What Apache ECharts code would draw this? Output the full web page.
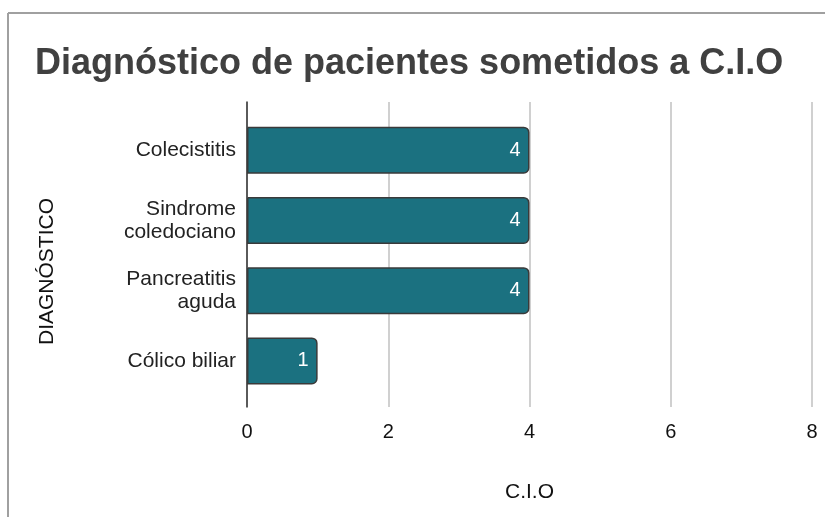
<!DOCTYPE html>
<html><head><meta charset="utf-8">
<script src="https://cdn.jsdelivr.net/npm/echarts@6/dist/echarts.min.js"></script>
<style>html,body{margin:0;padding:0;background:#fff}#c{width:825px;height:517px}</style>
</head><body><div id="c"></div>
<script>
const categories = ["Colecistitis", "Sindrome\ncoledociano", "Pancreatitis\naguda", "Cólico biliar"];
const values = [4, 4, 4, 1];
const xTicks = [0, 2, 4, 6, 8];
const titleText = "Diagnóstico de pacientes sometidos a C.I.O";
const xName = "C.I.O";
const yName = "DIAGNÓSTICO";

const chart = echarts.init(document.getElementById('c'), null, {renderer: 'canvas'});
const FONT = 'Liberation Sans';
chart.setOption({
  animation: false,
  backgroundColor: '#fff',
  title: {
    text: titleText, left: 30, top: 41,
    textStyle: {fontFamily: FONT, fontWeight: 'bold', fontSize: 36, color: '#404040'}
  },
  graphic: [
    {type: 'line', shape: {x1: 8, y1: 13, x2: 825, y2: 13}, style: {stroke: '#a0a0a0', lineWidth: 2}},
    {type: 'line', shape: {x1: 8, y1: 13, x2: 8, y2: 517}, style: {stroke: '#a0a0a0', lineWidth: 2}}
  ],
  grid: [
    {left: 247, right: 13, top: 102, bottom: 110},
    {left: 247, right: 13, top: 115, bottom: 121}
  ],
  xAxis: [
    {gridIndex: 0, type: 'value', min: xTicks[0], max: xTicks[xTicks.length-1], interval: 2,
     axisLine: {show: false}, axisTick: {show: false},
     splitLine: {lineStyle: {color: '#d0d0d0', width: 2}},
     axisLabel: {fontFamily: FONT, fontSize: 20, color: '#111', margin: 15},
     name: xName, nameLocation: 'middle', nameGap: 75,
     nameTextStyle: {fontFamily: FONT, fontSize: 21, color: '#111'}},
    {gridIndex: 1, type: 'value', min: xTicks[0], max: xTicks[xTicks.length-1], show: false}
  ],
  yAxis: [
    {gridIndex: 0, type: 'category', data: categories, inverse: true,
     axisLine: {lineStyle: {color: '#333', width: 1.5}}, axisTick: {show: false}, axisLabel: {show: false},
     name: yName, nameLocation: 'middle', nameGap: 189, nameRotate: 90,
     nameTextStyle: {fontFamily: FONT, fontSize: 21, color: '#111', padding: [0, 34, 0, 0]}},
    {gridIndex: 1, type: 'category', data: categories, inverse: true,
     axisLine: {show: false}, axisTick: {show: false},
     axisLabel: {fontFamily: FONT, fontSize: 21, color: '#222', margin: 11, lineHeight: 23, align: 'right'}}
  ],
  series: [{
    type: 'bar', xAxisIndex: 1, yAxisIndex: 1, data: values, barWidth: 47,
    itemStyle: {color: '#1b7180', borderColor: '#3a3a3a', borderWidth: 1.5, borderRadius: [0, 5, 5, 0]},
    label: {show: true, position: 'insideRight', distance: 9, color: '#fff', fontFamily: FONT, fontSize: 20}
  }]
});
</script></body></html>
